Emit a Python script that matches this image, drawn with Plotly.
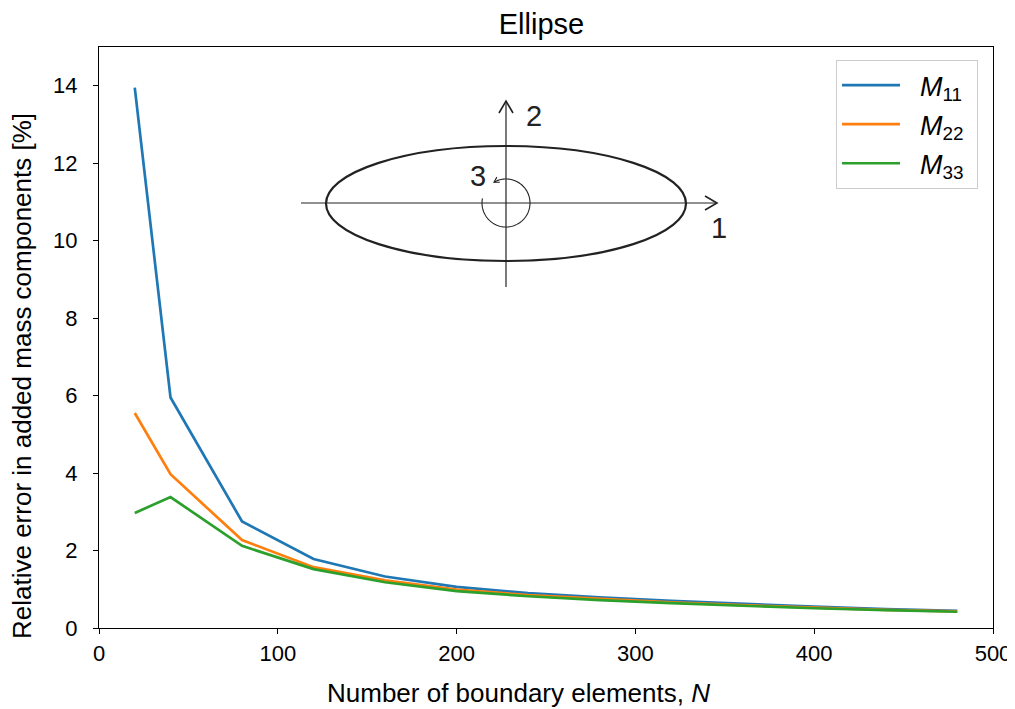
import numpy as np
import plotly.graph_objects as go

N = [20, 40, 80, 120, 160, 200, 240, 280, 320, 360, 400, 440, 480]
M11 = [13.95, 5.95, 2.75, 1.78, 1.33, 1.06, 0.90, 0.79, 0.70, 0.62, 0.55, 0.49, 0.44]
M22 = [5.55, 3.97, 2.27, 1.57, 1.23, 0.99, 0.85, 0.75, 0.66, 0.59, 0.53, 0.47, 0.43]
M33 = [2.97, 3.38, 2.12, 1.52, 1.18, 0.95, 0.82, 0.72, 0.64, 0.57, 0.51, 0.46, 0.42]
names = ["&nbsp;&nbsp;<i>M</i><sub>11</sub>&nbsp;", "&nbsp;&nbsp;<i>M</i><sub>22</sub>&nbsp;",
         "&nbsp;&nbsp;<i>M</i><sub>33</sub>&nbsp;"]
colors = ["#1f77b4", "#ff7f0e", "#2ca02c"]
xlabel = "Number of boundary elements, <i>N</i>"
ylabel = "Relative error in added mass components [%]"

OFF = 8  # page body margin
W, H = 1015 - OFF, 709 - OFF
SX0, SX1, SY0, SY1 = 99, 993, 47, 628
ML = SX0 - OFF
MT = SY0 - OFF
MR = (W + OFF) - SX1
MB = (H + OFF) - SY1
XR = (0, 500)
YR = (0, 15)
PW = SX1 - SX0
PH = SY1 - SY0
FONT = "Liberation Sans, Arial, sans-serif"


def px2d(px, py):
    x = XR[0] + (px - SX0) / PW * (XR[1] - XR[0])
    y = YR[0] + (SY1 - py) / PH * (YR[1] - YR[0])
    return x, y


def paper(px, py):
    # plotly 'paper' refers to the plot area
    return (px - SX0) / PW, (SY1 - py) / PH


def container(px, py):
    return (px - OFF) / W, 1 - (py - OFF) / H


def path_from_px(pts):
    s = ""
    for i, (px, py) in enumerate(pts):
        x, y = px2d(px, py)
        s += ("M" if i == 0 else " L") + f" {x:.5f},{y:.5f}"
    return s


fig = go.Figure()
for i, (n, ys, c) in enumerate(zip(names, [M11, M22, M33], colors)):
    fig.add_trace(go.Scatter(x=N, y=ys, mode="lines", name=n, legendgroup=f"g{i}",
                             line=dict(color=c, width=2.7)))

shapes = []
ink = "#222222"
x0, y0 = px2d(326, 261)
x1, y1 = px2d(686, 146)
shapes.append(dict(type="circle", xref="x", yref="y", x0=x0, y0=y0, x1=x1, y1=y1,
                   line=dict(color=ink, width=2.2)))
shapes.append(dict(type="path", xref="x", yref="y",
                   path=path_from_px([(301, 203), (717, 203)]), line=dict(color=ink, width=1.2)))
shapes.append(dict(type="path", xref="x", yref="y",
                   path=path_from_px([(705, 196), (717, 203), (705, 210)]), line=dict(color=ink, width=1.6)))
shapes.append(dict(type="path", xref="x", yref="y",
                   path=path_from_px([(506, 287), (506, 101)]), line=dict(color=ink, width=1.2)))
shapes.append(dict(type="path", xref="x", yref="y",
                   path=path_from_px([(499, 113), (506, 101), (513, 113)]), line=dict(color=ink, width=1.6)))
cx, cy, r = 506, 203, 24
ang = np.radians(np.linspace(169, 480, 120))
arc = [(cx + r * np.cos(a), cy - r * np.sin(a)) for a in ang]
shapes.append(dict(type="path", xref="x", yref="y", path=path_from_px(arc),
                   line=dict(color=ink, width=1.1)))
ae = np.radians(480)
tx, ty = cx + r * np.cos(ae), cy - r * np.sin(ae)
dx, dy = -np.sin(ae), -np.cos(ae)
nx, ny = -dy, dx
L, Wd = 5, 3
p1 = (tx - L * dx + Wd * nx, ty - L * dy + Wd * ny)
p2 = (tx - L * dx - Wd * nx, ty - L * dy - Wd * ny)
shapes.append(dict(type="path", xref="x", yref="y", path=path_from_px([p1, (tx, ty), p2]),
                   line=dict(color=ink, width=1.1)))

annotations = []
for txt, (px, py) in [("2", (534, 116)), ("3", (478, 176)), ("1", (719, 228))]:
    x, y = px2d(px, py)
    annotations.append(dict(x=x, y=y, xref="x", yref="y", text=txt, showarrow=False,
                            font=dict(size=29, color=ink, family=FONT),
                            xanchor="center", yanchor="middle"))
ax_, ay_ = paper(518, 693)
annotations.append(dict(x=ax_, y=ay_, xref="paper", yref="paper", text=xlabel, showarrow=False,
                        font=dict(size=26, color="black", family=FONT),
                        xanchor="center", yanchor="middle"))
bx_, by_ = paper(22, 376)
annotations.append(dict(x=bx_, y=by_, xref="paper", yref="paper", text=ylabel, showarrow=False,
                        textangle=-90, font=dict(size=26, color="black", family=FONT),
                        xanchor="center", yanchor="middle"))

tx_, ty_ = container(541.5, 24)
fig.update_layout(
    width=W, height=H,
    margin=dict(l=ML, r=MR, t=MT, b=MB, autoexpand=False),
    plot_bgcolor="white", paper_bgcolor="white",
    font=dict(family=FONT, size=22, color="black"),
    title=dict(text="Ellipse", x=tx_, xanchor="center", y=ty_,
               yanchor="middle", font=dict(size=29)),
    shapes=shapes,
    annotations=annotations,
    legend=dict(x=(836 - SX0) / PW, y=(SY1 - 60) / PH, xanchor="left", yanchor="top",
                bordercolor="#cccccc", borderwidth=1, bgcolor="white",
                font=dict(size=27), itemwidth=58, tracegroupgap=1),
    showlegend=True,
)
fig.update_xaxes(range=list(XR), tickvals=[0, 100, 200, 300, 400, 500],
                 showgrid=False, zeroline=False, showline=True, linecolor="black", linewidth=1.3,
                 mirror=True, ticks="outside", ticklen=5, tickcolor="black")
fig.update_yaxes(range=list(YR), tickvals=[0, 2, 4, 6, 8, 10, 12, 14],
                 showgrid=False, zeroline=False, showline=True, linecolor="black", linewidth=1.3,
                 mirror=True, ticks="outside", ticklen=5, tickcolor="black",
                 ticklabelstandoff=11)

fig.write_html("out.html")
